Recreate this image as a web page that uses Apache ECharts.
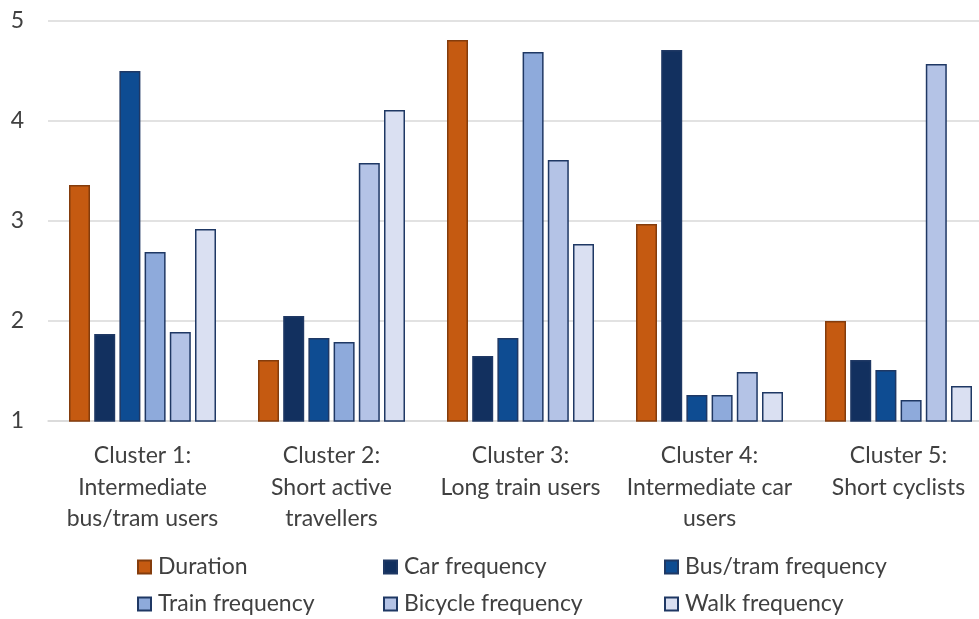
<!DOCTYPE html>
<html>
<head>
<meta charset="utf-8">
<script src="https://cdn.jsdelivr.net/npm/echarts@6/dist/echarts.min.js"></script>
<style>
  html, body { margin: 0; padding: 0; background: #fff; overflow: hidden; }
  /* the plot runs a little past the right edge of the picture */
  #chart { width: 993px; height: 619px; }
</style>
</head>
<body>
<div id="chart"></div>
<script>
// cluster names (x axis)
var categories = [
  "Cluster 1:\nIntermediate\nbus/tram users",
  "Cluster 2:\nShort active\ntravellers",
  "Cluster 3:\nLong train users",
  "Cluster 4:\nIntermediate car\nusers",
  "Cluster 5:\nShort cyclists"
];
var seriesNames = ["Duration", "Car frequency", "Bus/tram frequency",
  "Train frequency", "Bicycle frequency", "Walk frequency"];

// values
var duration = [3.36, 1.61, 4.81, 2.97, 2.00];
var carFreq = [1.87, 2.05, 1.65, 4.71, 1.61];
var busFreq = [4.50, 1.83, 1.83, 1.26, 1.51];
var trainFreq = [2.69, 1.79, 4.69, 1.26, 1.21];
var bicycleFreq = [1.89, 3.58, 3.61, 1.49, 4.57];
var walkFreq = [2.92, 4.11, 2.77, 1.29, 1.35];

var yTicks = [1, 2, 3, 4, 5];

var fills = ["#C55A11", "#12305F", "#0E4C92", "#8EAADB", "#B4C3E6", "#DAE0F2"];
var borders = ["#843C0C", "#1F3864", "#1F3864", "#1F3864", "#1F3864", "#1F3864"];
var allData = [duration, carFreq, busFreq, trainFreq, bicycleFreq, walkFreq];

var font = "Lato, 'Open Sans', sans-serif";

var series = allData.map(function (d, i) {
  return {
    name: seriesNames[i],
    type: "bar",
    data: d,
    barWidth: 21,
    barGap: "20%",
    itemStyle: {
      color: fills[i],
      borderColor: borders[i],
      borderWidth: 1.5
    }
  };
});

// legend: three columns of two rows
var legendCols = [
  { left: 137, names: [seriesNames[0], seriesNames[3]] },
  { left: 383, names: [seriesNames[1], seriesNames[4]] },
  { left: 664, names: [seriesNames[2], seriesNames[5]] }
];
var legends = legendCols.map(function (c) {
  return {
    orient: "vertical",
    left: c.left,
    top: 555,
    height: 100,
    padding: 0,
    itemWidth: 13,
    itemHeight: 13,
    itemGap: 13,
    icon: "rect",
    data: c.names,
    textStyle: { fontFamily: font, fontSize: 23, lineHeight: 24, color: "#404040", padding: [0, 0, 0, 2] }
  };
});

var chart = echarts.init(document.getElementById("chart"));
chart.setOption({
  animation: false,
  backgroundColor: "#fff",
  grid: { left: 48, right: 0, top: 21, bottom: 198, containLabel: false },
  legend: legends,
  xAxis: {
    type: "category",
    data: categories,
    axisTick: { show: false },
    axisLine: { lineStyle: { color: "#D9D9D9", width: 1.5 } },
    axisLabel: {
      interval: 0,
      margin: 19,
      fontFamily: font,
      fontSize: 23,
      color: "#404040",
      lineHeight: 31.5
    }
  },
  yAxis: {
    type: "value",
    min: yTicks[0],
    max: yTicks[yTicks.length - 1],
    interval: 1,
    axisLine: { show: false },
    axisTick: { show: false },
    splitLine: { lineStyle: { color: "#D9D9D9", width: 1.5 } },
    axisLabel: {
      fontFamily: font,
      fontSize: 23,
      color: "#404040",
      margin: 24
    }
  },
  series: series
});
</script>
</body>
</html>
